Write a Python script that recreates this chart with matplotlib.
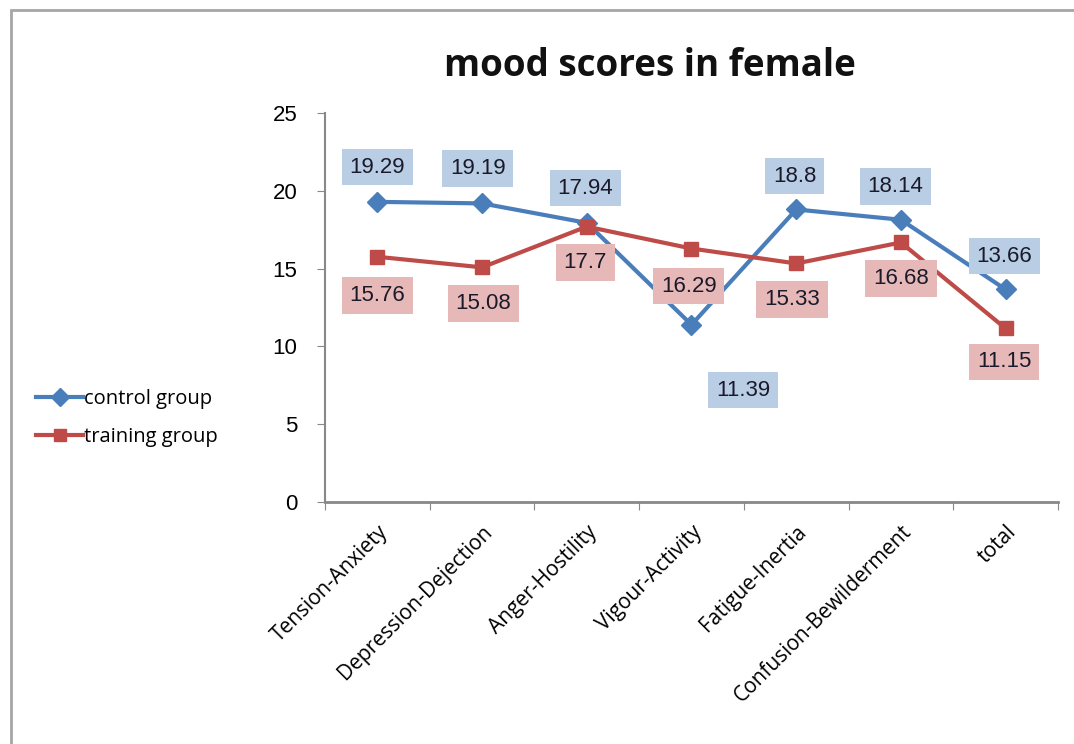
import matplotlib.pyplot as plt
from matplotlib.patches import Rectangle

# mood subscales and group means
categories = ["Tension-Anxiety", "Depression-Dejection", "Anger-Hostility",
              "Vigour-Activity", "Fatigue-Inertia", "Confusion-Bewilderment", "total"]
control = [19.29, 19.19, 17.94, 11.39, 18.8, 18.14, 13.66]
training = [15.76, 15.08, 17.7, 16.29, 15.33, 16.68, 11.15]
yticks = [0, 5, 10, 15, 20, 25]

# label offsets in points (dx, dy) from each point
control_off = [(0, 25), (-3, 25), (-1, 25), (37, -47), (-1, 24), (-4, 24), (-1, 24)]
training_off = [(0, -28), (1, -26), (-1, -26), (-2, -27), (-3, -26), (0, -26), (-1, -24)]

blue = "#4a7ebb"
red = "#be4b48"
blue_box = "#b9cde5"
red_box = "#e6b9b8"
num_font = "Liberation Sans"
txt_font = "Open Sans"

fig = plt.figure(figsize=(10.74, 7.44), dpi=100)
ax = fig.add_axes([0.3026, 0.3253, 0.6825, 0.5228])

x = list(range(len(categories)))
ax.plot(x, control, color=blue, lw=3, marker="D", ms=10, label="control group", zorder=3)
ax.plot(x, training, color=red, lw=3, marker="s", ms=10, label="training group", zorder=3)

box = dict(boxstyle="square,pad=0.35", ec="none")
for i, v in enumerate(control):
    ax.annotate(f"{v:g}", (i, v), xytext=control_off[i], textcoords="offset points",
                ha="center", va="center", fontsize=16, family=num_font, color="#1a1a2a",
                bbox=dict(box, fc=blue_box), zorder=4)
for i, v in enumerate(training):
    ax.annotate(f"{v:g}", (i, v), xytext=training_off[i], textcoords="offset points",
                ha="center", va="center", fontsize=16, family=num_font, color="#1a1a2a",
                bbox=dict(box, fc=red_box), zorder=4)

ax.set_xlim(-0.5, len(categories) - 0.5)
ax.set_ylim(0, 25)
ax.set_yticks(yticks)
ax.set_yticklabels([str(t) for t in yticks], family=num_font, fontsize=16)

# category labels between boundary ticks, like a spreadsheet chart
ax.set_xticks([i + 0.5 for i in range(-1, len(categories))])
ax.set_xticklabels([])
ax.set_xticks(x, minor=True)
ax.set_xticklabels(categories, minor=True, rotation=45, ha="right", va="top",
                   rotation_mode="anchor", family=txt_font, fontsize=15)
ax.tick_params(axis="x", which="minor", length=0, pad=14)
ax.tick_params(axis="x", which="major", length=6, color="#888888", direction="out")
ax.tick_params(axis="y", length=6, color="#888888", direction="out", pad=14)

for s in ["top", "right"]:
    ax.spines[s].set_visible(False)
ax.spines["left"].set_color("#888888")
ax.spines["bottom"].set_color("#888888")
ax.spines["left"].set_linewidth(1.5)
ax.spines["bottom"].set_linewidth(2)

fig.text(0.605, 0.911, "mood scores in female", ha="center", va="center",
         fontsize=26.5, fontweight="bold", family=txt_font, color="#111111")

leg = fig.legend(loc="center left", bbox_to_anchor=(0.017, 0.438), frameon=False,
                 prop={"family": txt_font, "size": 14.5}, handlelength=2.3,
                 handletextpad=0.05, labelspacing=0.9)
for h in leg.legend_handles:
    h.set_markersize(9)

# outer chart frame
fig.patches.append(Rectangle((0.0105, -0.05), 1.1, 1.0365, transform=fig.transFigure,
                             fill=False, ec="#a6a6a6", lw=2))

fig.savefig("out.png", dpi=100)
